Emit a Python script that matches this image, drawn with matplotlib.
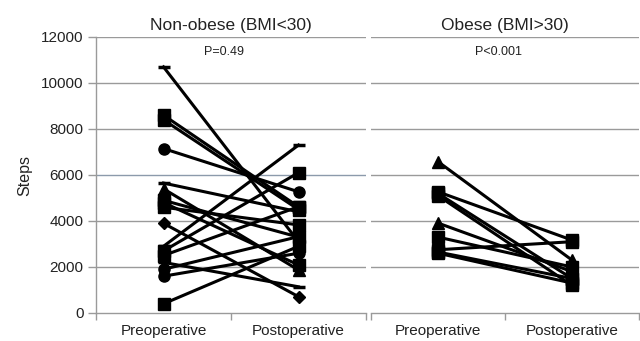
import matplotlib
matplotlib.use("Agg")
import matplotlib.pyplot as plt

plt.rcParams['font.family'] = ['Liberation Sans', 'DejaVu Sans']

categories = ["Preoperative", "Postoperative"]
titles = ["Non-obese (BMI<30)", "Obese (BMI>30)"]
p_labels = ["P=0.49", "P<0.001"]
y_ticks = [0, 2000, 4000, 6000, 8000, 10000, 12000]

nonobese_pre = [10700, 8600, 8400, 7150, 5650, 5400, 4900, 4800, 4600, 3900, 2900, 2700, 2500, 2200, 1900, 1600, 400]
nonobese_post = [3100, 4620, 4500, 5270, 4400, 1870, 3300, 2090, 3830, 710, 7300, 6100, 4620, 1140, 3320, 2600, 2900]
nonobese_markers = ['_', 's', 's', 'o', '_', '^', 's', 's', 's', 'D', '_', 's', 's', '_', 'o', 'o', 's']

obese_pre = [6580, 5270, 5200, 5100, 3910, 3300, 2750, 2650, 2600]
obese_post = [2300, 3170, 1500, 1200, 1800, 2000, 3100, 1500, 1300]
obese_markers = ['^', 's', 's', 's', '^', 's', 's', 's', 's']

W, H = 640, 341
fig = plt.figure(figsize=(W / 100, H / 100), dpi=100)

y0, y1 = 313, 37
panels = [(96, 366), (371, 639)]
data = [(nonobese_pre, nonobese_post, nonobese_markers), (obese_pre, obese_post, obese_markers)]

grid_col = '#9a9a9a'
for i, ((xa, xb), (pre, post, mk)) in enumerate(zip(panels, data)):
    ax = fig.add_axes([xa / W, 1 - y0 / H, (xb - xa) / W, (y0 - y1) / H])
    ax.set_xlim(-0.5, 1.5)
    ax.set_ylim(0, 12000)
    for v in y_ticks[1:]:
        c = '#8c9aab' if (i == 0 and v == 6000) else grid_col
        ax.axhline(v, color=c, lw=1.0, zorder=0)
    for a, b, m in zip(pre, post, mk):
        ms = {'s': 8, 'o': 8, 'D': 6, '^': 8, '_': 8}[m]
        mew = 2.5 if m == '_' else 1
        ax.plot([0, 1], [a, b], color='black', lw=2.2, marker=m, ms=ms,
                mew=mew, mec='black', mfc='black', zorder=3, clip_on=False)
    for s in ['top', 'right']:
        ax.spines[s].set_visible(False)
    ax.spines['bottom'].set_color(grid_col)
    ax.spines['bottom'].set_linewidth(1.0)
    if i == 0:
        ax.spines['left'].set_color(grid_col)
        ax.spines['left'].set_linewidth(1.0)
        ax.set_yticks(y_ticks)
        ax.set_yticklabels([str(v) for v in y_ticks], fontsize=11, color='#222222')
        ax.tick_params(axis='y', length=6, width=1, color=grid_col, pad=3)
        ax.set_ylabel("Steps", fontsize=11.5, color='#222222', labelpad=6)
    else:
        ax.spines['left'].set_visible(False)
        ax.set_yticks([])
    ax.set_xticks([0, 1])
    ax.set_xticklabels(categories, fontsize=11, color='#222222')
    ax.tick_params(axis='x', which='major', length=0, pad=8)
    ax.set_xticks([-0.5, 0.5, 1.5], minor=True)
    ax.tick_params(axis='x', which='minor', length=5, width=1, color=grid_col, direction='out')
    ax.set_title(titles[i], fontsize=12.5, color='#222222', pad=5)
    ax.text(0.45, 11350, p_labels[i], fontsize=9, ha='center', va='center', color='#222222')

fig.savefig("out.png", dpi=100)
